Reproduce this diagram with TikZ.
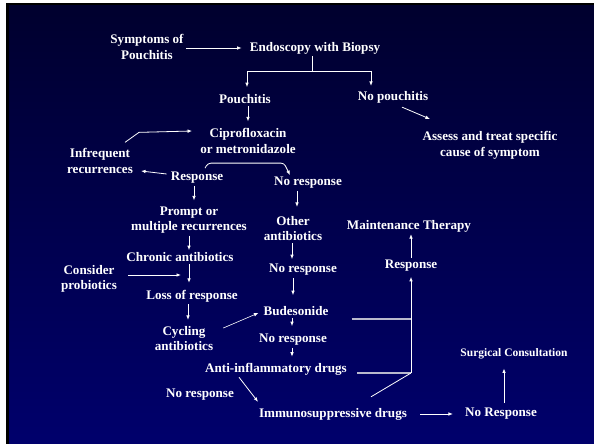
\documentclass[tikz,border=0pt]{standalone}
\usepackage{fontspec}
\setmainfont{Liberation Serif}
\usetikzlibrary{arrows.meta}
\definecolor{navytop}{RGB}{0,0,46}
\definecolor{navybot}{RGB}{0,0,108}
\definecolor{linegray}{RGB}{185,185,205}
\begin{document}
\begin{tikzpicture}[x=1pt,y=-1pt,
  lbl/.style={text=white, font=\fontsize{13.1}{15.5}\selectfont\bfseries, inner sep=2pt, align=center},
  smalllbl/.style={lbl, font=\fontsize{11.5}{14}\selectfont\bfseries},
  arr/.style={draw=white, line width=0.8pt, -{Latex[length=4.5pt,width=3.6pt]}},
  con/.style={draw=white, line width=0.8pt},
  gline/.style={draw=linegray, line width=1.4pt}]
\useasboundingbox (0,0) rectangle (594,444);
\fill[white] (0,0) rectangle (594,444);
\fill[black] (6,3) rectangle (594,444);
\fill[top color=navytop, bottom color=navybot] (9,6) rectangle (594,444);

% nodes
\node[lbl] (sym) at (147,47) {Symptoms of\\Pouchitis};
\node[lbl] (endo) at (315,48) {Endoscopy with Biopsy};
\node[lbl] (pouch) at (245,99) {Pouchitis};
\node[lbl] (nopouch) at (393,97) {No pouchitis};
\node[lbl] (cipro) at (248,141) {Ciprofloxacin\\or metronidazole};
\node[lbl] (assess) at (490,145.5) {Assess and treat specific\\cause of symptom};
\node[lbl] (infreq) at (100,161) {Infrequent\\recurrences};
\node[lbl] (resp) at (197,178) {Response};
\node[lbl] (noresp1) at (308,183) {No response};
\node[lbl] (prompt) at (189,220) {Prompt or\\multiple recurrences};
\node[lbl] (other) at (293,228.5) {Other\\antibiotics};
\node[lbl] (maint) at (409,226) {Maintenance Therapy};
\node[lbl] (chronic) at (180,257) {Chronic antibiotics};
\node[lbl] (respR) at (411,266) {Response};
\node[lbl] (noresp2) at (303,270) {No response};
\node[lbl] (consider) at (89,279) {Consider\\probiotics};
\node[lbl] (loss) at (192,296) {Loss of response};
\node[lbl] (budes) at (296,311) {Budesonide};
\node[lbl] (cycling) at (184,338.5) {Cycling\\antibiotics};
\node[lbl] (noresp3) at (293,340) {No response};
\node[lbl] (anti) at (276,369) {Anti-inflammatory drugs};
\node[lbl] (noresp4) at (200,395) {No response};
\node[lbl] (immuno) at (333,414) {Immunosuppressive drugs};
\node[lbl] (noResp) at (501,414) {No Response};
\node[smalllbl] (surg) at (514,354) {Surgical Consultation};

% connectors
\draw[arr, shorten >=6pt] (sym.east |- endo.west) -- (endo.west);
\coordinate (split) at ([shift={(-3,15)}]endo.south);
\draw[con] (split |- endo.south) -- (split);
\draw[arr] (split) -| ([shift={(2,-5)}]pouch.north);
\draw[arr] (split) -| ([shift={(-22,-3)}]nopouch.north);
\draw[arr, shorten >=5pt] ([xshift=3pt]pouch.south) -- ([xshift=3pt]pouch.south |- cipro.north);
\draw[arr] ([shift={(9,2)}]nopouch.south) -- ([shift={(-60,-10.5)}]assess.north);
\draw[arr] ([shift={(25,-4)}]infreq.north) -- ++(14,-10) -- ([shift={(-6,-10)}]cipro.west);
\draw[arr] ([shift={(-2,-4)}]resp.west) -- ([shift={(6,10)}]infreq.east);
\draw[arr, rounded corners=3pt] ([shift={(8,-2)}]resp.north) -- ++(3,-5) -- ++(76,0) -- ([shift={(-18,0)}]noresp1.north);
\draw[arr, shorten >=4pt] ([xshift=-3pt]resp.south) -- ([xshift=-3pt]resp.south |- prompt.north);
\draw[arr] (prompt.south) -- (prompt.south |- chronic.north);
\draw[arr, shorten >=5pt] ([xshift=-3pt]loss.north |- chronic.south) -- ([xshift=-3pt]loss.north);
\coordinate (probtip) at ([shift={(-11,-4)}]loss.north |- consider.east);
\draw[arr] ([shift={(9,-4)}]consider.east) -- (probtip);
\draw[arr, shorten >=4pt] ([xshift=-4pt]loss.south) -- ([xshift=-4pt]loss.south |- cycling.north);
\draw[arr, line width=0.6pt] ([shift={(8,-10.5)}]cycling.east) -- ([shift={(-3,2)}]budes.west);
\draw[arr, shorten >=7pt] ([xshift=-11pt]noresp1.south) -- ([xshift=-11pt]noresp1.south |- other.north);
\draw[arr, shorten >=3pt] ([xshift=-1pt]other.south) -- ([xshift=-1pt]other.south |- noresp2.north);
\draw[arr, shorten >=9pt] ([xshift=-10pt]noresp2.south) -- ([xshift=-10pt]noresp2.south |- budes.north);
\draw[arr, shorten >=6pt] ([xshift=-4pt]budes.south) -- ([xshift=-4pt]budes.south |- noresp3.north);
\draw[arr, shorten >=4pt] ([xshift=-1pt]noresp3.south) -- ([xshift=-1pt]noresp3.south |- anti.north);
\draw[arr] ([shift={(-37,0)}]anti.south) -- ([shift={(-75,-4)}]immuno.north);
\draw[arr, shorten <=11pt, shorten >=10pt] (immuno.east) -- (noResp.west);
\draw[arr, shorten <=3pt, shorten >=7pt] ([xshift=3pt]noResp.north) -- ([xshift=3pt]noResp.north |- surg.south);
\draw[arr] (respR.north) -- (respR.north |- maint.south);
\coordinate (bud1) at ([shift={(21,8)}]budes.east);
\coordinate (ant1) at ([shift={(8,4)}]anti.east);
\coordinate (jtop) at (bud1 -| respR.south);
\coordinate (jbot) at (ant1 -| respR.south);
\draw[gline] (bud1) -- (jtop);
\draw[gline] (ant1) -- (jbot);
\draw[arr, shorten >=3pt] (jbot) -- (respR.south);
\draw[con] ([shift={(38,-9)}]immuno.north) -- (jbot);
\end{tikzpicture}
\end{document}
